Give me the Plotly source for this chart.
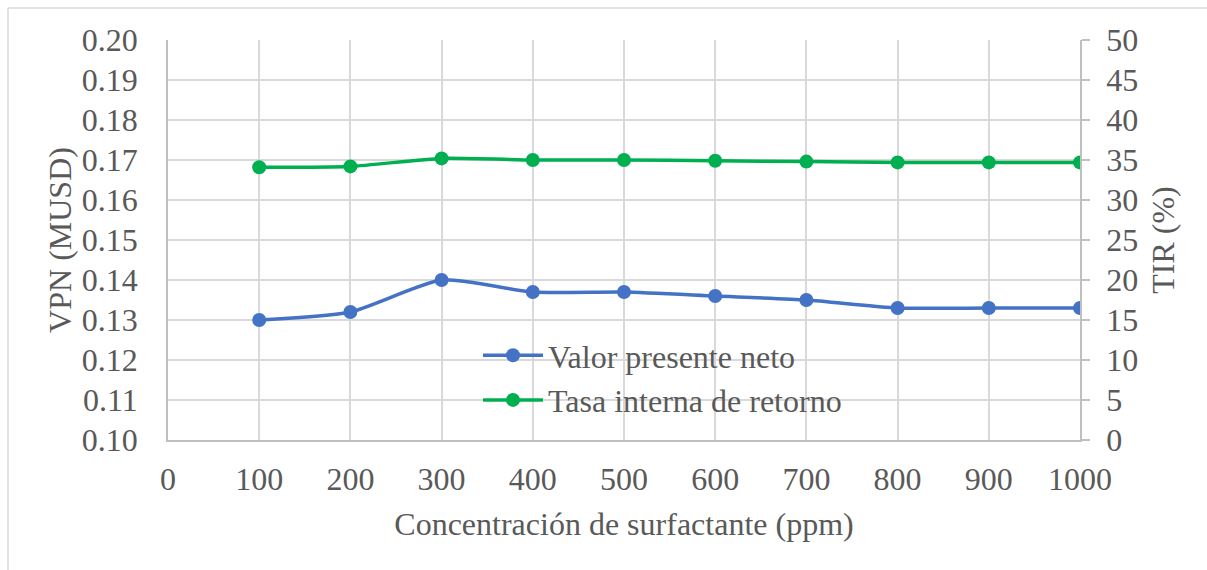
import plotly.graph_objects as go

# Surfactant concentration (ppm)
concentracion = [100, 200, 300, 400, 500, 600, 700, 800, 900, 1000]
# Net present value (MUSD)
vpn = [0.130, 0.132, 0.140, 0.137, 0.137, 0.136, 0.135, 0.133, 0.133, 0.133]
# Internal rate of return (%)
tir = [34.1, 34.2, 35.2, 35.0, 35.0, 34.9, 34.8, 34.7, 34.7, 34.7]

x_ticks = [0, 100, 200, 300, 400, 500, 600, 700, 800, 900, 1000]
y_left_ticks = [0.10, 0.11, 0.12, 0.13, 0.14, 0.15, 0.16, 0.17, 0.18, 0.19, 0.20]
y_right_ticks = [0, 5, 10, 15, 20, 25, 30, 35, 40, 45, 50]

FONT = "Liberation Serif, Times New Roman, serif"
FS = 32
TXT = "#595959"
GRID = "#d9d9d9"
AXIS = "#bfbfbf"

fig = go.Figure()
fig.add_trace(go.Scatter(
    x=concentracion, y=vpn, name="Valor presente neto",
    mode="lines+markers", line=dict(color="#4472C4", width=3.5, shape="spline", smoothing=0.6),
    marker=dict(size=14, color="#4472C4"), yaxis="y"))
fig.add_trace(go.Scatter(
    x=concentracion, y=tir, name="Tasa interna de retorno",
    mode="lines+markers", line=dict(color="#00B050", width=3.5, shape="spline", smoothing=0.6),
    marker=dict(size=14, color="#00B050"), yaxis="y2"))

L, R, T, B = 168, 127, 40, 130
W, H = 1207, 570
pw, ph = W - L - R, H - T - B

def px(xp):
    return (xp - L) / pw

def py(yp):
    return (H - B - yp) / ph

fig.update_layout(
    width=W, height=H,
    margin=dict(l=L, r=R, t=T, b=B),
    paper_bgcolor="white", plot_bgcolor="white",
    font=dict(family=FONT, size=FS, color=TXT),
    xaxis=dict(range=[0, 1000], tickvals=x_ticks, showgrid=True, gridcolor=GRID, gridwidth=1.5,
               showline=True, linecolor=AXIS, linewidth=1.5, zeroline=False, ticks="",
               tickfont=dict(size=FS, color=TXT), ticklabelstandoff=10,
               title=dict(text="Concentración de surfactante (ppm)", font=dict(size=FS, color=TXT), standoff=16)),
    yaxis=dict(range=[0.10, 0.20], tickvals=y_left_ticks, tickformat=".2f", showgrid=True,
               gridcolor=GRID, gridwidth=1.5, showline=True, linecolor=AXIS, linewidth=1.5,
               zeroline=False, ticks="", tickfont=dict(size=FS, color=TXT), ticklabelstandoff=22,
               title=dict(text="VPN (MUSD)", font=dict(size=FS, color=TXT), standoff=1)),
    yaxis2=dict(range=[0, 50], tickvals=y_right_ticks, overlaying="y", side="right",
                showgrid=False, showline=True, linecolor=AXIS, linewidth=1.5, zeroline=False,
                ticks="outside", ticklen=8, tickcolor=AXIS, tickwidth=1.5,
                tickfont=dict(size=FS, color=TXT), ticklabelstandoff=10,
                title=dict(text="TIR (%)", font=dict(size=FS, color=TXT), standoff=14)),
    legend=dict(x=px(478), y=py(328), xanchor="left", yanchor="top",
                bgcolor="rgba(0,0,0,0)", font=dict(size=FS, color=TXT),
                itemwidth=60, tracegroupgap=0),
    showlegend=True,
)

# Chart frame
fig.add_shape(type="line", xref="paper", yref="paper", x0=px(8), x1=px(8), y0=py(8), y1=py(575),
              line=dict(color=GRID, width=1.5))
fig.add_shape(type="line", xref="paper", yref="paper", x0=px(8), x1=px(1210), y0=py(8), y1=py(8),
              line=dict(color=GRID, width=1.5))

fig.write_html("out.html")
